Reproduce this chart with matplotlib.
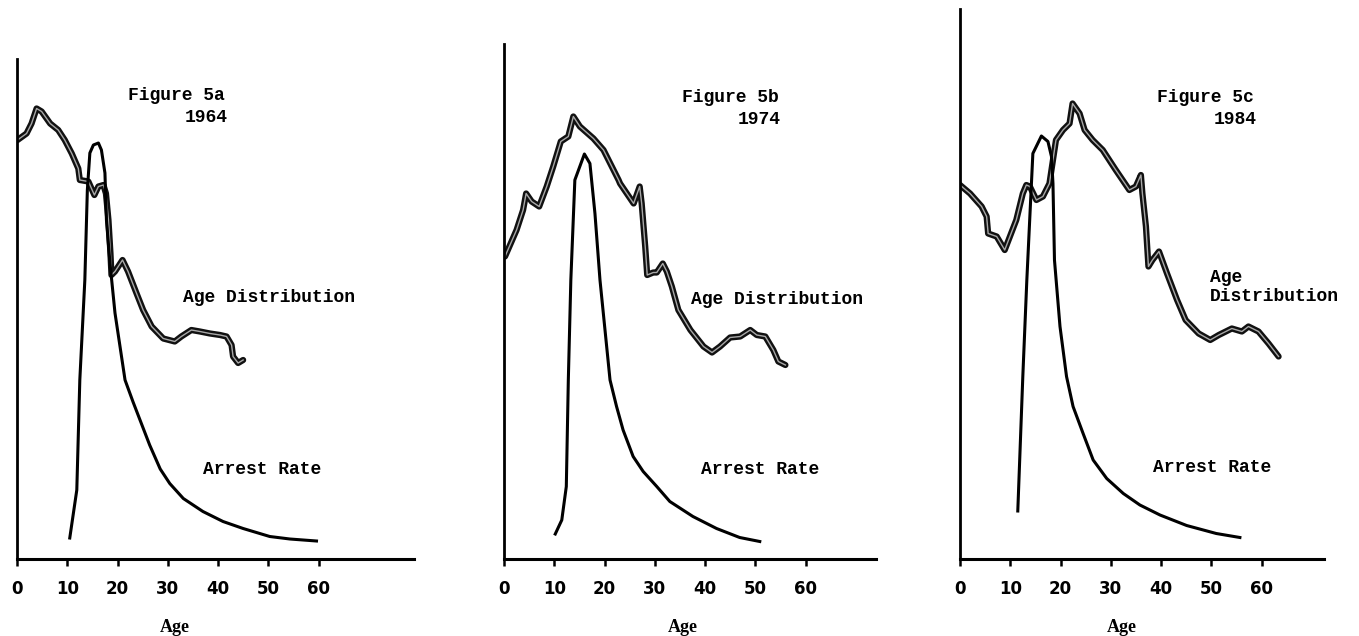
import matplotlib.pyplot as plt

# Figure 5a - 1964
dist_age_a = [0.1, 1.9, 2.9, 3.9, 4.9, 6.6, 8.2, 9.5, 10.9, 12.2, 12.5, 14.2, 15.4, 16.2,
              17.2, 17.7, 18.2, 18.6, 18.8, 19.5, 21.0, 22.1, 23.8, 25.1, 26.8, 29.1,
              31.4, 32.7, 34.7, 36.4, 38.4, 40.4, 41.7, 42.7, 43.0, 44.0, 45.0]
dist_a = [83.8, 85.1, 87.1, 90.1, 89.5, 87.1, 85.8, 83.8, 81.1, 78.1, 75.8, 75.5, 72.8, 74.5,
          74.8, 73.1, 67.8, 61.1, 56.8, 57.5, 59.8, 57.5, 53.1, 49.8, 46.5, 44.1,
          43.5, 44.5, 45.8, 45.5, 45.1, 44.8, 44.5, 42.8, 40.5, 39.2, 39.8]
arrest_age_a = [10.5, 11.9, 12.5, 13.5, 14.0, 14.5, 15.2, 16.2, 16.8, 17.5, 17.8, 18.5, 19.5,
                21.5, 23.1, 26.4, 28.5, 30.4, 33.1, 37.0, 41.0, 45.0, 50.3, 54.3, 59.6]
arrest_a = [4.2, 13.8, 35.8, 55.8, 73.8, 81.2, 82.8, 83.2, 81.8, 77.2, 67.8, 59.2, 49.2,
            35.8, 31.4, 22.8, 18.0, 15.1, 12.1, 9.5, 7.5, 6.1, 4.5, 4.0, 3.6]

# Figure 5b - 1974
dist_age_b = [0.2, 2.5, 3.8, 4.4, 5.5, 7.0, 8.5, 9.8, 11.3, 12.8, 13.8, 15.1, 17.8, 19.8,
              22.8, 23.1, 25.8, 27.0, 27.4, 28.1, 28.5, 29.7, 30.4, 31.6, 32.4, 33.4,
              34.7, 37.1, 39.7, 41.4, 43.0, 45.0, 47.0, 49.0, 50.3, 52.0, 53.6, 54.6, 56.0]
dist_b = [60.5, 65.8, 69.8, 73.1, 71.5, 70.5, 74.5, 78.5, 83.5, 84.5, 88.5, 86.5, 84.1, 81.8,
          75.8, 75.1, 71.1, 74.5, 71.1, 62.5, 56.8, 57.3, 57.3, 59.1, 57.5, 54.5,
          49.8, 45.8, 42.5, 41.3, 42.5, 44.3, 44.5, 45.8, 44.8, 44.5, 41.8, 39.5, 38.8]
arrest_age_b = [10.2, 11.5, 12.4, 12.8, 13.3, 14.1, 16.0, 17.1, 18.1, 19.1, 21.1, 22.4, 23.7,
                25.7, 27.7, 30.4, 33.0, 37.6, 42.3, 46.9, 50.9]
arrest_b = [5.0, 7.8, 14.5, 35.8, 55.8, 75.8, 81.0, 79.1, 69.1, 55.8, 35.8, 30.5, 25.8,
            20.5, 17.5, 14.5, 11.5, 8.5, 6.1, 4.3, 3.5]

# Figure 5c - 1984
dist_age_c = [0.0, 2.0, 4.3, 5.3, 5.6, 7.3, 8.9, 11.2, 12.5, 13.2, 13.9, 15.2, 16.5, 17.8,
              18.5, 19.1, 20.5, 21.8, 22.4, 23.8, 24.8, 26.4, 28.4, 31.0, 33.7, 35.0,
              36.0, 36.3, 37.0, 37.5, 38.3, 39.6, 41.2, 43.2, 44.9, 47.5, 49.8, 51.5,
              54.1, 56.1, 57.4, 59.4, 61.4, 63.4]
dist_c = [74.8, 73.1, 70.5, 68.5, 65.1, 64.5, 61.8, 67.8, 73.1, 74.8, 74.5, 71.8, 72.5, 75.1,
          79.8, 83.8, 85.8, 87.1, 91.1, 89.1, 85.8, 83.8, 81.8, 77.8, 73.8, 74.5,
          76.8, 73.1, 66.5, 58.5, 59.8, 61.5, 57.1, 51.8, 47.8, 45.1, 43.8, 44.8,
          46.1, 45.5, 46.5, 45.5, 43.1, 40.5]
arrest_age_c = [11.5, 12.5, 13.3, 14.5, 16.2, 17.5, 18.2, 18.5, 18.8, 19.9, 21.2, 22.5, 24.5,
                26.5, 29.2, 32.5, 35.8, 39.8, 45.1, 51.0, 55.7]
arrest_c = [9.6, 36.5, 55.8, 81.1, 84.6, 83.5, 80.5, 75.1, 59.8, 46.5, 36.5, 30.5, 25.1,
            19.8, 16.1, 13.1, 10.8, 8.8, 6.7, 5.1, 4.3]

tick_ages = [0, 10, 20, 30, 40, 50, 60]
tick_labels = ['0', '10', '20', '30', '40', '50', '60']

panels = [
    dict(left=17, dx=dist_age_a, dy=dist_a, ax_=arrest_age_a, ay=arrest_a, ytop=100, xend=79,
         fig=(22.1, 92.6), year=(41.9, 88.4), yr='1964', agex=31.4,
         dist=(33.0, 52.2), dist_txt='Age Distribution', arr=(37.0, 18.0)),
    dict(left=504, dx=dist_age_b, dy=dist_b, ax_=arrest_age_b, ay=arrest_b, ytop=103, xend=74,
         fig=(35.4, 92.4), year=(55.1, 88.0), yr='1974', agex=35.5,
         dist=(37.2, 51.8), dist_txt='Age Distribution', arr=(39.2, 17.8)),
    dict(left=960, dx=dist_age_c, dy=dist_c, ax_=arrest_age_c, ay=arrest_c, ytop=110, xend=72.5,
         fig=(39.2, 92.4), year=(59.0, 87.8), yr='1984', agex=32.3,
         dist=(49.7, 54.4), dist_txt='Age\nDistribution', arr=(38.4, 18.2)),
]
letters = ['a', 'b', 'c']

W, H = 1359, 636
fig = plt.figure(figsize=(W / 100, H / 100), dpi=100)
mono = 'Liberation Mono'

for p, letter in zip(panels, letters):
    ax = fig.add_axes([p['left'] / W, (H - 559) / H, 402 / W, 550 / H])
    ax.set_xlim(0, 80)
    ax.set_ylim(0, 110)
    for s in ['top', 'right']:
        ax.spines[s].set_visible(False)
    ax.spines['left'].set_bounds(0, p['ytop'])
    ax.spines['bottom'].set_bounds(0, p['xend'])
    ax.spines['left'].set_linewidth(2)
    ax.spines['bottom'].set_linewidth(2.2)
    ax.set_yticks([])
    ax.set_xticks(tick_ages)
    ax.set_xticklabels(tick_labels, fontsize=12, fontweight='semibold', family='DejaVu Sans')
    ax.tick_params(axis='x', length=5, width=1.8, pad=10)

    # age distribution: thick traced line with a lighter core
    ax.plot(p['dx'], p['dy'], color='#111111', lw=4.5, solid_joinstyle='round', solid_capstyle='round')
    ax.plot(p['dx'], p['dy'], color='#a8a8a8', lw=1.0, solid_joinstyle='round')
    # arrest rate
    ax.plot(p['ax_'], p['ay'], color='black', lw=2.2, solid_joinstyle='round')

    ax.text(*p['fig'], 'Figure 5' + letter, family=mono, fontweight='bold', fontsize=13,
            ha='left', va='center')
    ax.text(*p['year'], p['yr'], family=mono, fontweight='bold', fontsize=13,
            ha='right', va='center')
    ax.text(*p['dist'], p['dist_txt'], family=mono, fontweight='bold', fontsize=13,
            ha='left', va='center', linespacing=1.1)
    ax.text(*p['arr'], 'Arrest Rate', family=mono, fontweight='bold', fontsize=13,
            ha='left', va='center')
    ax.text(p['agex'], -13.6, 'Age', family='Liberation Serif', fontweight='bold', fontsize=13,
            ha='center', va='center', clip_on=False)

fig.savefig('out.png', dpi=100)
